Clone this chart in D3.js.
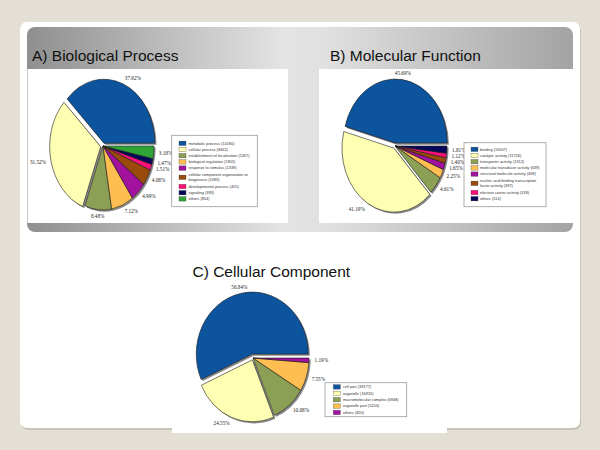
<!DOCTYPE html>
<html>
<head>
<meta charset="utf-8">
<script src="https://cdn.jsdelivr.net/npm/d3@7"></script>
<style>
  body { margin: 0; background: #e4dfd5; }
</style>
</head>
<body>
<div id="chart"></div>
<script>
// A) Biological Process
const bpCategories = ['metabolic process (10180)', 'cellular process (8462)', 'establishment of localization (2267)',
    'biological regulation (1905)', 'response to stimulus (1339)', 'cellular component organization or biogenesis (1093)',
    'developmental process (405)', 'signaling (393)', 'others (854)'];
const bpPercents = [37.92, 31.52, 8.48, 7.12, 4.99, 4.08, 1.51, 1.47, 3.18];

// B) Molecular Function
const mfCategories = ['binding (13007)', 'catalytic activity (11726)', 'transporter activity (1312)',
    'molecular transducer activity (639)', 'structural molecule activity (469)',
    'nucleic acid binding transcription factor activity (397)', 'electron carrier activity (318)', 'others (514)'];
const mfPercents = [45.69, 41.19, 4.61, 2.25, 1.65, 1.40, 1.12, 1.81];

// C) Cellular Component
const ccCategories = ['cell part (39177)', 'organelle (16920)', 'macromolecular complex (6948)',
    'organelle part (5204)', 'others (820)'];
const ccPercents = [56.84, 24.55, 10.08, 7.55, 1.19];

const colors9 = ['#0d549f', '#ffffb4', '#8ca055', '#ffbe52', '#a2129e', '#9a4a0a', '#ff1078', '#07075a', '#2fa538'];

const width = 600;
const height = 450;

const svg = d3.select('#chart').append('svg')
    .attr('width', width)
    .attr('height', height);

const defs = svg.append('defs');
const grad = defs.append('linearGradient').attr('id', 'banner').attr('x1', 0).attr('x2', 1).attr('y1', 0).attr('y2', 0);
grad.append('stop').attr('offset', 0).attr('stop-color', '#8f8f8f');
grad.append('stop').attr('offset', 0.47).attr('stop-color', '#e4e4e4');
grad.append('stop').attr('offset', 0.55).attr('stop-color', '#e0e0e0');
grad.append('stop').attr('offset', 1).attr('stop-color', '#a3a3a3');

// page background + card
svg.append('rect').attr('width', width).attr('height', height).attr('fill', '#e4dfd5');
svg.append('rect').attr('x', 21).attr('y', 24).attr('width', 560).attr('height', 406).attr('rx', 7).attr('fill', '#c8c3b9');
svg.append('rect').attr('x', 20).attr('y', 22).attr('width', 560).attr('height', 406).attr('rx', 7).attr('fill', '#fff');

// grey banner behind A and B
svg.append('rect').attr('x', 27).attr('y', 27).attr('width', 546).attr('height', 205).attr('rx', 8).attr('fill', 'url(#banner)');
svg.append('rect').attr('x', 27.5).attr('y', 69).attr('width', 260.5).attr('height', 154).attr('fill', '#fff');
svg.append('rect').attr('x', 319).attr('y', 69).attr('width', 254).attr('height', 154).attr('fill', '#fff');
svg.append('rect').attr('x', 172).attr('y', 283).attr('width', 275).attr('height', 150).attr('fill', '#fff');

const titleFont = '"Liberation Sans", Arial, sans-serif';
function title(x, y, text) {
    svg.append('text').attr('x', x).attr('y', y).text(text)
        .attr('font-family', titleFont).attr('font-size', 15.5).attr('fill', '#111');
}
title(32, 61, 'A) Biological Process');
title(330, 61, 'B) Molecular Function');
title(192.5, 276.5, 'C) Cellular Component');

function drawPie(cfg) {
    const pie = d3.pie().sort(null)
        .startAngle(Math.PI / 2)
        .endAngle(Math.PI / 2 - 2 * Math.PI);
    const arcs = pie(cfg.values);
    const r = cfg.ry;
    const sx = cfg.rx / cfg.ry;
    const arc = d3.arc().innerRadius(0).outerRadius(r);

    const off = (d, i) => {
        const m = (d.startAngle + d.endAngle) / 2;
        const e = cfg.explode[i] || 0;
        return [Math.sin(m) * e, -Math.cos(m) * e];
    };

    const g = svg.append('g')
        .attr('transform', `translate(${cfg.cx},${cfg.cy}) scale(${sx},1)`);

    g.selectAll('path.shadow')
      .data(arcs)
      .join('path')
        .attr('class', 'shadow')
        .attr('d', arc)
        .attr('fill', '#3a3a3a')
        .attr('opacity', 0.6)
        .attr('transform', (d, i) => {
            const o = off(d, i);
            return `translate(${o[0] + 1.6 / sx},${o[1] + 1.6})`;
        });

    g.selectAll('path.slice')
      .data(arcs)
      .join('path')
        .attr('class', 'slice')
        .attr('d', arc)
        .attr('fill', (d, i) => cfg.colors[i])
        .attr('stroke', '#1c1c1c')
        .attr('stroke-width', 0.6)
        .attr('vector-effect', 'non-scaling-stroke')
        .attr('transform', (d, i) => {
            const o = off(d, i);
            return `translate(${o[0]},${o[1]})`;
        });

    // percentage labels around the pie
    const k = 1.1;
    const labs = arcs.map((d, i) => {
        const m = (d.startAngle + d.endAngle) / 2;
        const o = off(d, i);
        const s = Math.sin(m), c = -Math.cos(m);
        const anchor = Math.abs(s) < 0.25 ? 'middle' : (s > 0 ? 'start' : 'end');
        return {
            x: cfg.cx + (s * r * k + o[0]) * sx,
            y: cfg.cy + c * r * k + o[1],
            anchor: anchor,
            text: cfg.values[i].toFixed(2) + '%'
        };
    });
    const right = labs.filter(l => l.anchor === 'start').sort((a, b) => a.y - b.y);
    for (let i = 1; i < right.length; i++) {
        if (right[i].y - right[i - 1].y < 5.8) right[i].y = right[i - 1].y + 5.8;
    }

    svg.append('g')
        .attr('font-family', '"Liberation Serif", "Times New Roman", serif')
        .attr('font-size', 5.2)
        .attr('fill', '#222')
      .selectAll('text')
      .data(labs)
      .join('text')
        .attr('x', d => d.x)
        .attr('y', d => d.y)
        .attr('dy', '0.35em')
        .attr('text-anchor', d => d.anchor)
        .text(d => d.text);

    // legend
    const L = cfg.legend;
    const wrap = s => {
        const lines = [];
        let cur = '';
        s.split(' ').forEach(w => {
            if (cur && (cur + ' ' + w).length > 38) { lines.push(cur); cur = w; }
            else cur = cur ? cur + ' ' + w : w;
        });
        lines.push(cur);
        return lines;
    };
    const rows = cfg.categories.map((c, i) => ({ lines: wrap(c), color: cfg.colors[i] }));
    svg.append('rect')
        .attr('x', L.x).attr('y', L.y).attr('width', L.w).attr('height', L.h)
        .attr('fill', '#fff').attr('stroke', '#9a9a9a').attr('stroke-width', 0.8);
    let y = L.y0;
    const lg = svg.append('g')
        .attr('font-family', '"Liberation Sans", Arial, sans-serif')
        .attr('font-size', 3.9)
        .attr('fill', '#333');
    rows.forEach((row, i) => {
        const h = row.lines.length > 1 ? L.step * 2 - 0.2 : L.step;
        if (i > 0) y += h / 2;
        lg.append('rect')
            .attr('x', L.sw).attr('y', y - 2.2).attr('width', 7).attr('height', 4.4)
            .attr('fill', row.color).attr('stroke', '#333').attr('stroke-width', 0.3);
        row.lines.forEach((t, j) => {
            lg.append('text')
                .attr('x', L.tx)
                .attr('y', y + (j - (row.lines.length - 1) / 2) * 5.6)
                .attr('dy', '0.35em')
                .text(t);
        });
        y += h / 2;
    });
}

drawPie({
    cx: 103, cy: 146, rx: 51, ry: 64,
    values: bpPercents, categories: bpCategories, colors: colors9,
    explode: [3, 3],
    legend: { x: 171.7, y: 135.3, w: 85.6, h: 71.4, y0: 143.3, step: 6.2, sw: 179, tx: 188.5 }
});

drawPie({
    cx: 395, cy: 146, rx: 52, ry: 64,
    values: mfPercents, categories: mfCategories, colors: colors9.slice(0, 8),
    explode: [3, 2.5],
    legend: { x: 464, y: 142.7, w: 82, h: 64, y0: 149.3, step: 6.2, sw: 471, tx: 480 }
});

drawPie({
    cx: 253, cy: 358, rx: 56, ry: 62,
    values: ccPercents, categories: ccCategories, colors: colors9.slice(0, 5),
    explode: [4, 2],
    legend: { x: 325, y: 382.7, w: 81.7, h: 34, y0: 386.9, step: 6.4, sw: 333.3, tx: 343 }
});
</script>
</body>
</html>
